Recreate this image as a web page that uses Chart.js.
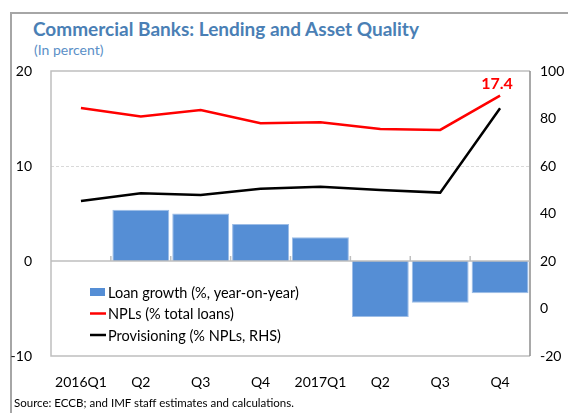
<!DOCTYPE html>
<html>
<head>
<meta charset="utf-8">
<script src="https://cdn.jsdelivr.net/npm/chart.js@4.4.1/dist/chart.umd.min.js"></script>
<style>
    body { margin: 0; background: #fff; }
    #wrap { position: relative; width: 568px; height: 413px; overflow: hidden; font-family: Lato, sans-serif; }
    #frame { position: absolute; left: 10px; top: 12px; width: 620px; height: 440px; border: 2px solid #a6a6a6; }
    #title { position: absolute; left: 33px; top: 17px; font-size: 19px; font-weight: bold; color: #4a7fb5; white-space: nowrap; }
    #subtitle { position: absolute; left: 34px; top: 41px; font-size: 14px; color: #5b8fc7; }
    #source { position: absolute; left: 14px; top: 396px; font-size: 11.5px; color: #000; white-space: nowrap; }
    canvas { position: absolute; left: 0; top: 0; }
</style>
</head>
<body>
<div id="wrap">
    <div id="frame"></div>
    <div id="title">Commercial Banks: Lending and Asset Quality</div>
    <div id="subtitle">(In percent)</div>
    <canvas id="chart" width="568" height="413"></canvas>
    <div id="source">Source: ECCB; and IMF staff estimates and calculations.</div>
</div>
<script>
// data
const categories = ['2016Q1', 'Q2', 'Q3', 'Q4', '2017Q1', 'Q2', 'Q3', 'Q4'];
const loanGrowth = [null, 5.4, 5.0, 3.9, 2.5, -5.9, -4.4, -3.4];
const npls = [16.1, 15.2, 15.9, 14.5, 14.6, 13.9, 13.8, 17.4];
const provisioning = [45.3, 48.5, 47.8, 50.4, 51.3, 49.9, 48.8, 84.3];
const leftRange = [-10, 20];
const rightRange = [-20, 100];

Chart.defaults.font.family = 'Lato, sans-serif';
Chart.defaults.color = '#000';

// plot box, gridline, zero axis, legend and end label
const decorations = {
    id: 'decorations',
    beforeDatasetsDraw(chart) {
        const ctx = chart.ctx;
        const a = chart.chartArea;
        const y = chart.scales.y;
        ctx.save();
        ctx.strokeStyle = '#d9d9d9';
        ctx.lineWidth = 1;
        ctx.setLineDash([3, 2]);
        ctx.beginPath();
        ctx.moveTo(a.left, Math.round(y.getPixelForValue(10)) + 0.5);
        ctx.lineTo(a.right, Math.round(y.getPixelForValue(10)) + 0.5);
        ctx.stroke();
        ctx.restore();
    },
    afterDatasetsDraw(chart) {
        const ctx = chart.ctx;
        const a = chart.chartArea;
        const y = chart.scales.y;
        const x = chart.scales.x;
        ctx.save();
        // plot border
        ctx.strokeStyle = '#bfbfbf';
        ctx.lineWidth = 1.5;
        ctx.beginPath();
        ctx.moveTo(a.right, a.top);
        ctx.lineTo(a.left, a.top);
        ctx.lineTo(a.left, a.bottom);
        ctx.lineTo(a.right, a.bottom);
        ctx.stroke();
        ctx.strokeStyle = '#8c8c8c';
        ctx.beginPath();
        ctx.moveTo(a.right, a.top);
        ctx.lineTo(a.right, a.bottom);
        ctx.stroke();
        // zero line with category ticks
        const y0 = y.getPixelForValue(0);
        ctx.strokeStyle = '#bfbfbf';
        ctx.lineWidth = 1.5;
        ctx.beginPath();
        ctx.moveTo(a.left, y0);
        ctx.lineTo(a.right, y0);
        for (let i = 1; i < categories.length; i++) {
            const bx = (x.getPixelForValue(i - 1) + x.getPixelForValue(i)) / 2;
            ctx.moveTo(bx, y0);
            ctx.lineTo(bx, y0 - 5);
        }
        ctx.stroke();
        ctx.restore();
    },
    afterDraw(chart) {
        const ctx = chart.ctx;
        ctx.save();
        // legend inside the plot
        const rows = [292, 313.5, 335];
        ctx.font = '14.5px Lato, sans-serif';
        ctx.textBaseline = 'middle';
        chart.data.datasets.forEach((ds, i) => {
            const ry = rows[i];
            if (ds.type === 'bar') {
                ctx.fillStyle = ds.backgroundColor;
                ctx.fillRect(90, ry - 4, 15, 8);
            } else {
                ctx.strokeStyle = ds.borderColor;
                ctx.lineWidth = 2.5;
                ctx.beginPath();
                ctx.moveTo(90, ry);
                ctx.lineTo(106, ry);
                ctx.stroke();
            }
            ctx.fillStyle = '#000';
            ctx.fillText(ds.label, 108, ry + 1);
        });
        // value label on last NPL point
        const meta = chart.getDatasetMeta(1);
        const last = meta.data[meta.data.length - 1];
        ctx.fillStyle = '#ff0000';
        ctx.font = 'bold 16px Lato, sans-serif';
        ctx.textAlign = 'center';
        ctx.textBaseline = 'alphabetic';
        ctx.fillText(npls[npls.length - 1].toFixed(1), last.x - 3, last.y - 7);
        ctx.restore();
    }
};

const ctx = document.getElementById('chart').getContext('2d');
const chart = new Chart(ctx, {
    data: {
        labels: categories,
        datasets: [{
            type: 'bar',
            label: 'Loan growth (%, year-on-year)',
            data: loanGrowth,
            yAxisID: 'y',
            backgroundColor: '#558ed5',
            borderColor: '#9dbde6',
            borderWidth: 1,
            barPercentage: 0.95,
            categoryPercentage: 1,
            order: 3
        }, {
            type: 'line',
            label: 'NPLs (% total loans)',
            data: npls,
            yAxisID: 'y',
            borderColor: '#ff0000',
            borderWidth: 2.5,
            pointRadius: 0,
            tension: 0,
            order: 2
        }, {
            type: 'line',
            label: 'Provisioning (% NPLs, RHS)',
            data: provisioning,
            yAxisID: 'y2',
            borderColor: '#000000',
            borderWidth: 2.5,
            pointRadius: 0,
            tension: 0,
            order: 1
        }]
    },
    options: {
        responsive: false,
        animation: false,
        layout: { padding: { top: 71, left: 0, right: 0, bottom: 0 } },
        plugins: {
            legend: { display: false },
            tooltip: { enabled: false }
        },
        scales: {
            x: {
                offset: true,
                grid: { display: false, drawTicks: false },
                border: { display: false },
                ticks: { font: { size: 14 }, padding: 18, maxRotation: 0, autoSkip: false },
                afterFit: s => { s.height = 57; }
            },
            y: {
                position: 'left',
                min: leftRange[0],
                max: leftRange[1],
                grid: { display: false, drawTicks: false },
                border: { display: false },
                ticks: { stepSize: 10, font: { size: 14 }, padding: 19 },
                afterFit: s => { s.width = 51; }
            },
            y2: {
                position: 'right',
                min: rightRange[0],
                max: rightRange[1],
                grid: { display: false, drawTicks: false },
                border: { display: false },
                ticks: { stepSize: 20, font: { size: 14 }, padding: 10 },
                afterFit: s => { s.width = 38; }
            }
        }
    },
    plugins: [decorations]
});
</script>
</body>
</html>
